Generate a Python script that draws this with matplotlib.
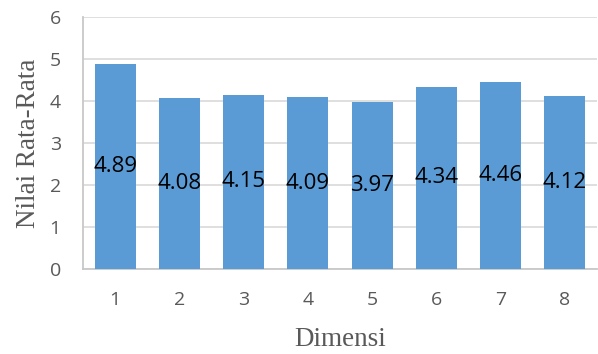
import matplotlib
matplotlib.use("Agg")
import matplotlib.pyplot as plt

categories = ["1", "2", "3", "4", "5", "6", "7", "8"]
values = [4.89, 4.08, 4.15, 4.09, 3.97, 4.34, 4.46, 4.12]
yticks = [0, 1, 2, 3, 4, 5, 6]

fig = plt.figure(figsize=(5.98, 3.54), dpi=100)
ax = fig.add_axes([83/598, 85/354, 514/598, 252/354])

x = list(range(1, len(categories) + 1))
bars = ax.bar(x, values, width=0.64, color="#5B9BD5", zorder=3)
for xi, v in zip(x, values):
    ax.text(xi, v / 2, f"{v:.2f}", ha="center", va="center", fontsize=16,
            family="Open Sans", color="black", zorder=4)

ax.set_xlim(0.5, 8.5)
ax.set_ylim(0, 6)
ax.set_yticks(yticks)
ax.set_xticks(x)
ax.set_xticklabels(categories)
ax.grid(axis="y", color="#D9D9D9", linewidth=1.2, zorder=0)
for s in ["top", "right"]:
    ax.spines[s].set_visible(False)
ax.spines["left"].set_color("#C8C8C8")
ax.spines["bottom"].set_color("#C8C8C8")
ax.spines["left"].set_linewidth(1.3)
ax.spines["bottom"].set_linewidth(1.3)
ax.tick_params(axis="both", length=0, labelsize=14, labelcolor="#595959")
ax.tick_params(axis="y", pad=16)
ax.tick_params(axis="x", pad=16)
for lab in ax.get_xticklabels() + ax.get_yticklabels():
    lab.set_family("Open Sans")

ax.set_xlabel("Dimensi", family="Liberation Serif", fontsize=19.5, color="#595959", labelpad=13)
ax.set_ylabel("Nilai Rata-Rata", family="Liberation Serif", fontsize=19.5, color="#595959", labelpad=6)

fig.savefig("out.png", dpi=100)
